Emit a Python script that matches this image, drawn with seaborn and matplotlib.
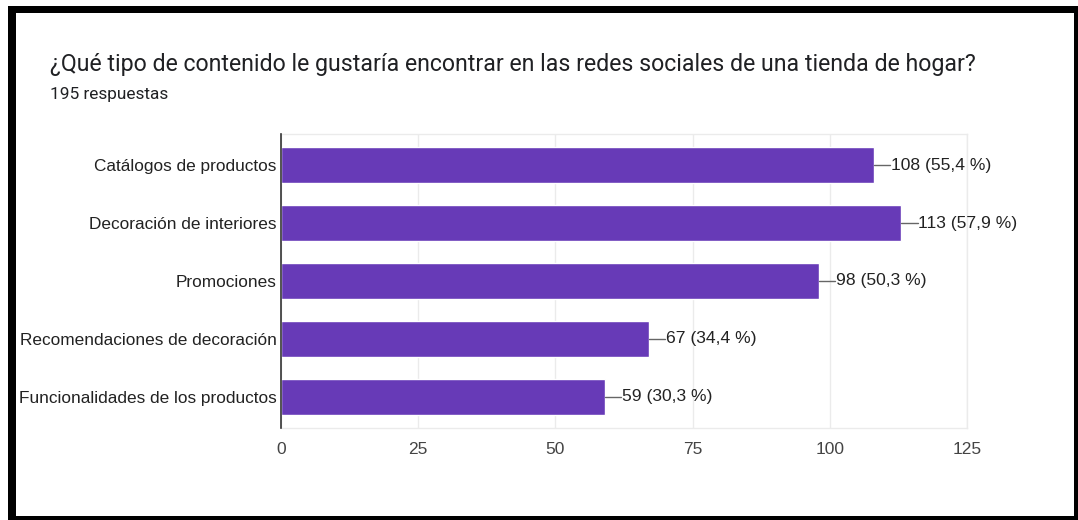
import matplotlib
matplotlib.use("Agg")
import matplotlib.pyplot as plt
import seaborn as sns
import pandas as pd
from matplotlib.patches import Rectangle

categories = ["Catálogos de productos", "Decoración de interiores", "Promociones",
              "Recomendaciones de decoración", "Funcionalidades de los productos"]
counts = [108, 113, 98, 67, 59]
percent_labels = ["55,4 %", "57,9 %", "50,3 %", "34,4 %", "30,3 %"]
x_ticks = [0, 25, 50, 75, 100, 125]
title = "¿Qué tipo de contenido le gustaría encontrar en las redes sociales de una tienda de hogar?"
subtitle = "195 respuestas"

sns.set_theme(style="white")
plt.rcParams['font.family'] = ['Liberation Sans', 'DejaVu Sans']

df = pd.DataFrame({"categoria": categories, "respuestas": counts})

W, H = 1078, 520
fig = plt.figure(figsize=(W / 100, H / 100), dpi=100)
fig.patch.set_facecolor("white")
ax = fig.add_axes([281/W, 1 - 428/H, 686/W, 294/H])

sns.barplot(data=df, x="respuestas", y="categoria", orient="h", color="#673AB7",
            saturation=1, width=0.61, ax=ax, zorder=3)

ax.set_xlim(0, 125)
ax.set_xticks(x_ticks)
ax.set_xticklabels([str(t) for t in x_ticks], fontsize=12.5, color="#444444")
ax.tick_params(axis="x", length=0, pad=10)
ax.tick_params(axis="y", length=0, pad=3, labelsize=12.4, labelcolor="#222222")
ax.set_xlabel("")
ax.set_ylabel("")
ax.grid(axis="x", color="#ebebeb", linewidth=1, zorder=0)
for side in ["top", "right", "bottom"]:
    ax.spines[side].set_color("#ebebeb")
    ax.spines[side].set_linewidth(1)
ax.spines["left"].set_color("#333333")
ax.spines["left"].set_linewidth(1.2)
ax.spines["left"].set_zorder(5)

for i, (c, p) in enumerate(zip(counts, percent_labels)):
    ax.plot([c, c + 3.0], [i, i], color="#666666", linewidth=1, zorder=4, clip_on=False)
    ax.text(c + 3.1, i, f"{c} ({p})", va="center", ha="left", fontsize=12.6,
            color="#222222", zorder=4, clip_on=False)

fig.text(50/W, 1 - 64/H, title, fontsize=16.65, color="#202124",
         family=['Roboto', 'DejaVu Sans'], va="center", ha="left")
fig.text(50/W, 1 - 95/H, subtitle, fontsize=12.4, color="#202124",
         family=['Roboto', 'DejaVu Sans'], va="center", ha="left")

# black frame around the screenshot (top, left, right, bottom bands)
for (x0, y0, x1, y1) in [(8, 6, W, 13), (8, 6, 16, H), (1074, 6, W, H), (8, 516, W, H)]:
    fig.patches.append(Rectangle((x0 / W, 1 - y1 / H), (x1 - x0) / W, (y1 - y0) / H,
                                 transform=fig.transFigure, facecolor="black",
                                 edgecolor="none", zorder=10))

fig.savefig("out.png", dpi=100, facecolor="white")
